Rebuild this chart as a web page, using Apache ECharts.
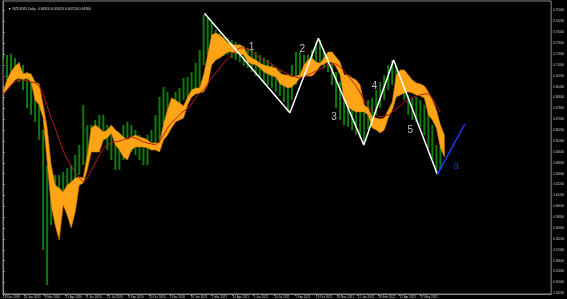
<!DOCTYPE html>
<html><head><meta charset="utf-8">
<script src="https://cdn.jsdelivr.net/npm/echarts@6/dist/echarts.min.js"></script>
<style>html,body{margin:0;padding:0;background:#000;}#c{width:567px;height:299px;}</style>
</head><body><div id="c"></div>
<script>
const days = [0,5,10,15,20,25,30,35,40,45,50,55,60,65,70,75,80,85,90,95,100,105,110,115,120,125,130,135,140,145,150,155,160,165,170,175,180,185,190,195,200,205,210,215,220,225,230,235,240,245,250,255,260,265,270,275,280,285,290,295,300,305,310,315,320,325,330,335,340,345,350,355,360,365,370,375,380,385,390,395,400,405,410,415,420,425,430,435,440,445,450,455,460,465,470,475,480,485,490,495,500,505,510,515,520,525,530,535,540,545,550];
const priceHigh = [0.7137,0.7174,0.7181,0.7152,0.7122,0.7100,0.7049,0.7005,0.6931,0.6806,
0.6622,0.6364,0.6313,0.6291,0.6291,0.6313,0.6342,0.6364,0.6438,0.6512,
0.6806,0.6659,0.6659,0.6696,0.6732,0.6732,0.6659,0.6637,0.6622,0.6585,
0.6659,0.6681,0.6659,0.6622,0.6585,0.6563,0.6585,0.6622,0.6732,0.6865,
0.6938,0.6902,0.6843,0.6902,0.6931,0.7005,0.7012,0.7049,0.7115,0.7211,
0.7468,0.7454,0.7417,0.7358,0.7336,0.7299,0.7299,0.7284,0.7270,0.7255,
0.7240,0.7226,0.7211,0.7196,0.7174,0.7152,0.7137,0.7108,0.7078,0.7064,
0.7034,0.7005,0.7100,0.7196,0.7196,0.7174,0.7174,0.7211,0.7270,0.7284,
0.7211,0.7174,0.7122,0.7049,0.6975,0.6880,0.6858,0.6843,0.6806,0.6784,
0.6769,0.6843,0.6858,0.6916,0.6975,0.7027,0.7100,0.7137,0.7100,0.7049,
0.6990,0.6880,0.6858,0.6865,0.6843,0.6806,0.6755,0.6659,0.6512,0.6497,null];
const priceLow = [0.6953,0.6990,0.7027,0.6990,0.6975,0.6916,0.6784,0.6732,0.6681,0.6549,
0.5739,0.5481,0.5923,0.5996,0.6107,0.6144,0.6181,0.6217,0.6254,0.6291,
0.6364,0.6401,0.6475,0.6512,0.6549,0.6549,0.6475,0.6401,0.6328,0.6328,
0.6401,0.6438,0.6460,0.6438,0.6401,0.6364,0.6364,0.6475,0.6490,0.6549,
0.6659,0.6710,0.6696,0.6769,0.6791,0.6843,0.6858,0.6865,0.6902,0.6931,
0.7100,0.7174,0.7211,0.7174,0.7152,0.7167,0.7174,0.7152,0.7137,0.7122,
0.7093,0.7078,0.7049,0.7019,0.7005,0.6975,0.6953,0.6931,0.6902,0.6872,
0.6828,0.6755,0.6843,0.6953,0.7005,0.7027,0.7049,0.7064,0.7100,0.7122,
0.7078,0.7049,0.6953,0.6784,0.6696,0.6659,0.6644,0.6622,0.6585,0.6563,
0.6526,0.6622,0.6644,0.6732,0.6784,0.6843,0.6916,0.6953,0.6931,0.6880,
0.6843,0.6732,0.6696,0.6681,0.6644,0.6585,0.6475,0.6401,0.6313,0.6328,null];
const cloudTop = [0.6902,0.6990,0.7049,0.7093,0.7115,0.7034,0.7041,0.7034,0.6975,0.6961,
0.6806,0.6637,0.6364,0.6217,0.6195,0.6166,0.6217,0.6239,0.6269,0.6276,
0.6269,0.6438,0.6637,0.6659,0.6637,0.6607,0.6622,0.6659,0.6622,0.6600,
0.6571,0.6549,0.6571,0.6585,0.6571,0.6563,0.6549,0.6526,0.6526,0.6526,
0.6666,0.6769,0.6858,0.6843,0.6821,0.6799,0.6865,0.6916,0.6931,0.6931,
0.7027,0.7174,0.7321,0.7336,0.7321,0.7299,0.7262,0.7255,0.7248,0.7248,
0.7233,0.7174,0.7152,0.7137,0.7115,0.7100,0.7093,0.7086,0.7078,0.7041,
0.7027,0.7027,0.7012,0.7019,0.7027,0.7100,0.7137,0.7152,0.7122,0.7115,
0.7152,0.7196,0.7196,0.7159,0.7122,0.7027,0.7027,0.7005,0.6990,0.6953,
0.6806,0.6784,0.6718,0.6710,0.6703,0.6710,0.6769,0.6828,0.7027,0.7064,
0.7064,0.7027,0.6990,0.6968,0.6961,0.6946,0.6902,0.6843,0.6769,0.6659,0.6585];
const cloudBottom = [0.6880,0.6916,0.6953,0.6990,0.7005,0.6990,0.7005,0.6975,0.6843,0.6806,
0.6710,0.6387,0.6070,0.5923,0.5813,0.6070,0.5996,0.5901,0.6018,0.6217,
0.6232,0.6328,0.6460,0.6460,0.6460,0.6549,0.6563,0.6600,0.6512,0.6475,
0.6423,0.6401,0.6475,0.6497,0.6497,0.6497,0.6490,0.6475,0.6475,0.6460,
0.6549,0.6585,0.6637,0.6681,0.6696,0.6710,0.6806,0.6865,0.6887,0.6894,
0.6902,0.6953,0.7100,0.7137,0.7152,0.7174,0.7196,0.7196,0.7189,0.7181,
0.7174,0.7122,0.7108,0.7100,0.7078,0.7049,0.7034,0.7019,0.7012,0.6961,
0.6946,0.6931,0.6938,0.6968,0.7005,0.7019,0.7019,0.7019,0.7049,0.7093,
0.7108,0.7122,0.7122,0.7086,0.7027,0.6843,0.6791,0.6769,0.6755,0.6755,
0.6755,0.6732,0.6637,0.6622,0.6600,0.6622,0.6710,0.6769,0.6865,0.6880,
0.6894,0.6902,0.6894,0.6880,0.6872,0.6858,0.6732,0.6696,0.6637,0.6490,0.6423];
const maValues = [0.6887,0.6916,0.6953,0.6975,0.6990,0.6990,0.6983,0.6975,0.6968,0.6946,
0.6887,0.6799,0.6710,0.6637,0.6549,0.6468,0.6409,0.6357,0.6313,0.6269,
0.6239,0.6269,0.6320,0.6379,0.6438,0.6482,0.6512,0.6526,0.6534,0.6541,
0.6549,0.6563,0.6571,0.6563,0.6549,0.6534,0.6526,0.6519,0.6512,0.6541,
0.6585,0.6637,0.6674,0.6703,0.6732,0.6762,0.6777,0.6813,0.6858,0.6894,
0.6916,0.6961,0.7005,0.7041,0.7078,0.7115,0.7145,0.7174,0.7203,0.7226,
0.7226,0.7218,0.7196,0.7174,0.7152,0.7137,0.7122,0.7108,0.7086,0.7064,
0.7049,0.7034,0.7019,0.7012,0.7005,0.7012,0.7027,0.7041,0.7056,0.7071,
0.7086,0.7100,0.7108,0.7108,0.7086,0.7056,0.7019,0.6983,0.6946,0.6894,
0.6843,0.6799,0.6762,0.6732,0.6718,0.6725,0.6732,0.6755,0.6777,0.6799,
0.6828,0.6843,0.6858,0.6872,0.6880,0.6887,0.6887,0.6858,0.6799,0.6755,null];

const waveDays = [251, 357.5, 393, 449.5, 486.7, 541.2];
const wavePrices = [0.7481, 0.6749, 0.7297, 0.6512, 0.7137, 0.6296];
const projDays = [541.2, 575.5];
const projPrices = [0.6296, 0.6666];
const waveLabelNames = ['1', '2', '3', '4', '5'];
const waveLabelDays = [309.6, 372.8, 412.4, 462.8, 507.4];
const waveLabelPrices = [0.7228, 0.7218, 0.6712, 0.6941, 0.6622];
const projLabelNames = ['a'];
const projLabelDays = [564.4];
const projLabelPrices = [0.6357];

const priceTicks = [0.542,0.550,0.558,0.566,0.574,0.582,0.590,0.598,0.606,0.614,0.622,0.630,0.638,0.646,0.654,0.662,0.670,0.678,0.686,0.694,0.702,0.710,0.718,0.726,0.734,0.742,0.750];
const dateTickDays = [0,26,52,78,104,130,156,182,208,234,260,286,312,338,364,390,416,442,468,494,520];
const dateTickLabels = ['18 Dec 2019','24 Jan 2020','6 Mar 2020','21 Apr 2020','8 Jun 2020','21 Jul 2020','4 Sep 2020','20 Oct 2020','1 Dec 2020','18 Jan 2021','1 Mar 2021','14 Apr 2021','1 Jun 2021','14 Jul 2021','1 Sep 2021','13 Oct 2021','26 Nov 2021','12 Jan 2022','28 Feb 2022','12 Apr 2022','27 May 2022'];
const headerText = '▼ NZDUSD,Daily  0.64900 0.65020 0.64750 0.64900';
const lastPrice = 0.6490;

const chart = echarts.init(document.getElementById('c'));

const candleData = [];
days.forEach((d, i) => { if (priceHigh[i] != null) candleData.push([d, priceLow[i], priceHigh[i]]); });
const maData = [];
days.forEach((d, i) => { if (maValues[i] != null) maData.push([d, maValues[i]]); });

const option = {
  backgroundColor: '#000',
  animation: false,
  title: { text: headerText, left: 3, top: 2, textStyle: { color: '#dddddd', fontSize: 3.5, fontWeight: 'normal', fontFamily: 'Liberation Sans' } },
  grid: { left: 2, right: 13.5, top: 1, bottom: 5, show: true, borderColor: '#8a8a8a', borderWidth: 1, backgroundColor: '#000' },
  xAxis: {
    type: 'value', min: 0, max: 683,
    splitLine: { show: false },
    axisLine: { show: true, lineStyle: { color: '#8a8a8a', width: 1 } },
    axisTick: { show: true, customValues: dateTickDays, length: 2, lineStyle: { color: '#8a8a8a' } },
    axisLabel: {
      customValues: dateTickDays, color: '#cccccc', fontSize: 3, margin: 1.5, align: 'left',
      fontFamily: 'Liberation Sans',
      formatter: v => { const k = dateTickDays.indexOf(v); return k >= 0 ? dateTickLabels[k] : ''; }
    }
  },
  yAxis: {
    type: 'value', position: 'right', min: 0.5415, max: 0.7571, scale: true,
    splitLine: { show: false },
    axisLine: { show: true, lineStyle: { color: '#8a8a8a', width: 1 } },
    axisTick: { show: true, customValues: priceTicks, length: 2, lineStyle: { color: '#8a8a8a' } },
    axisLabel: { customValues: priceTicks, color: '#cccccc', fontSize: 3, margin: 2, fontFamily: 'Liberation Sans', formatter: v => v.toFixed(5) }
  },
  series: [
    {
      type: 'custom', name: 'candles', z: 1, clip: true,
      data: candleData,
      encode: { x: 0, y: [1, 2] },
      renderItem: (params, api) => {
        const x = api.value(0);
        const top = api.coord([x, api.value(2)]);
        const bot = api.coord([x, api.value(1)]);
        return { type: 'rect', shape: { x: top[0] - 1, y: top[1], width: 2, height: Math.max(1, bot[1] - top[1]) }, style: { fill: '#0a7d0a' } };
      }
    },
    {
      type: 'custom', name: 'cloud', z: 2, clip: true,
      data: [[days[0], cloudTop[0]]],
      encode: { x: 0, y: 1 },
      renderItem: (params, api) => {
        const pts = [];
        for (let i = 0; i < days.length; i++) pts.push(api.coord([days[i], cloudTop[i]]));
        for (let i = days.length - 1; i >= 0; i--) pts.push(api.coord([days[i], cloudBottom[i]]));
        return { type: 'polygon', shape: { points: pts }, style: { fill: '#ffa414', stroke: '#d97a00', lineWidth: 0.6 } };
      }
    },
    {
      type: 'line', name: 'MA', z: 3, data: maData, symbol: 'none',
      lineStyle: { color: '#b81818', width: 1 },
      markLine: {
        symbol: 'none', silent: true,
        lineStyle: { opacity: 0 },
        data: [{ yAxis: lastPrice }],
        label: { position: 'end', formatter: lastPrice.toFixed(5), backgroundColor: '#ffffff', color: '#000', fontSize: 3, padding: [1, 1], distance: 1, fontFamily: 'Liberation Sans' }
      }
    },
    {
      type: 'line', name: 'waves', z: 4, symbol: 'none',
      data: waveDays.map((d, i) => [d, wavePrices[i]]),
      lineStyle: { color: '#ffffff', width: 1.5 }
    },
    {
      type: 'line', name: 'projection', z: 4, symbol: 'none',
      data: projDays.map((d, i) => [d, projPrices[i]]),
      lineStyle: { color: '#1c3cff', width: 1.5 }
    },
    {
      type: 'scatter', name: 'waveLabels', z: 5, symbolSize: 1,
      itemStyle: { color: 'rgba(0,0,0,0)' },
      data: waveLabelDays.map((d, i) => [d, waveLabelPrices[i], waveLabelNames[i]]),
      label: { show: true, position: 'inside', formatter: p => p.data[2], color: '#eeeeee', fontSize: 10, fontFamily: 'Liberation Sans' }
    },
    {
      type: 'scatter', name: 'projLabels', z: 5, symbolSize: 1,
      itemStyle: { color: 'rgba(0,0,0,0)' },
      data: projLabelDays.map((d, i) => [d, projLabelPrices[i], projLabelNames[i]]),
      label: { show: true, position: 'inside', formatter: p => p.data[2], color: '#2244ff', fontSize: 10, fontFamily: 'Liberation Sans' }
    }
  ]
};
chart.setOption(option);
</script>
</body></html>
